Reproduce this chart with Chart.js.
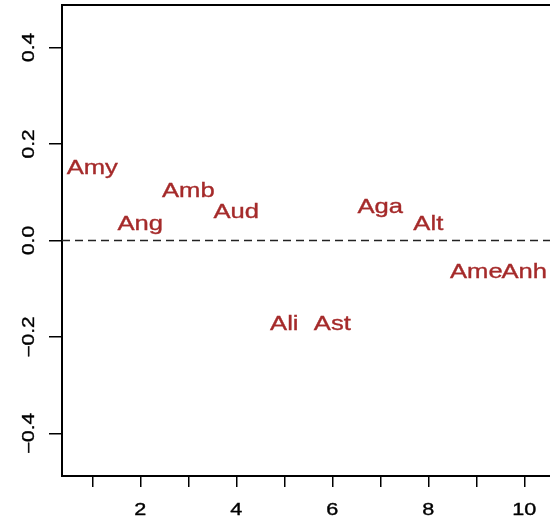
<!DOCTYPE html>
<html>
<head>
<meta charset="utf-8">
<script src="https://cdn.jsdelivr.net/npm/chart.js@4/dist/chart.umd.min.js"></script>
<style>
  html, body { margin: 0; padding: 0; background: #fff; overflow: hidden; }
  canvas { display: block; }
</style>
</head>
<body>
<canvas id="c" width="550" height="521"></canvas>
<script>
// Names and positions of the labelled points
const names   = ["Amy", "Ang", "Amb", "Aud", "Ali", "Ast", "Aga", "Alt", "Ame", "Anh"];
const xValues = [1, 2, 3, 4, 5, 6, 7, 8, 9, 10];
const yValues = [0.153, 0.037, 0.106, 0.061, -0.170, -0.170, 0.072, 0.038, -0.062, -0.062];

// Axis ticks
const xTicks = [1, 2, 3, 4, 5, 6, 7, 8, 9, 10];
const xTickLabels = ["", "2", "", "4", "", "6", "", "8", "", "10"];
const yTicks = [-0.4, -0.2, 0, 0.2, 0.4];
const yTickLabels = ["\u22120.4", "\u22120.2", "0.0", "0.2", "0.4"];
const refLine = 0;

const LABEL_COLOR = "#A52A2A";
const FONT = '"Liberation Sans", Arial, Helvetica, sans-serif';

// Text drawn with a wide letterform (stretched along the text direction)
function wideText(ctx, text, x, y, size, stretch, rot, color) {
  ctx.save();
  ctx.translate(x, y);
  if (rot) ctx.rotate(rot);
  ctx.scale(stretch, 1);
  ctx.font = size + "px " + FONT;
  ctx.fillStyle = color;
  ctx.strokeStyle = color;
  ctx.lineWidth = 0.35;
  ctx.textAlign = "center";
  ctx.textBaseline = "alphabetic";
  ctx.fillText(text, 0, 0);
  ctx.strokeText(text, 0, 0);
  ctx.restore();
}

const decorations = {
  id: "decorations",
  beforeDatasetsDraw(chart) {
    const { ctx, chartArea: a, scales } = chart;
    // top edge of the frame
    ctx.save();
    ctx.strokeStyle = "#000";
    ctx.lineWidth = 2;
    ctx.beginPath();
    ctx.moveTo(a.left - 1, a.top);
    ctx.lineTo(a.right, a.top);
    ctx.stroke();
    // dashed reference line
    const y0 = scales.y.getPixelForValue(refLine);
    ctx.strokeStyle = "#222";
    ctx.lineWidth = 1.4;
    ctx.setLineDash([8, 5]);
    ctx.beginPath();
    ctx.moveTo(a.left, y0);
    ctx.lineTo(a.right, y0);
    ctx.stroke();
    ctx.restore();
  },
  afterDatasetsDraw(chart) {
    const { ctx, scales } = chart;
    // point labels, centred on each point
    const meta = chart.getDatasetMeta(0);
    meta.data.forEach((pt, i) => {
      wideText(ctx, names[i], pt.x, pt.y + 7.4, 21, 1.22, 0, LABEL_COLOR);
    });
    // x tick labels
    xTicks.forEach((v, i) => {
      if (!xTickLabels[i]) return;
      wideText(ctx, xTickLabels[i], scales.x.getPixelForValue(v), 514.5, 16, 1.35, 0, "#000");
    });
    // y tick labels, reading upwards
    yTicks.forEach((v, i) => {
      wideText(ctx, yTickLabels[i], 33.5, scales.y.getPixelForValue(v), 16, 1.3, -Math.PI / 2, "#000");
    });
  }
};

new Chart(document.getElementById("c"), {
  type: "scatter",
  data: {
    datasets: [{
      data: xValues.map((x, i) => ({ x, y: yValues[i] })),
      pointRadius: 0,
      pointHoverRadius: 0
    }]
  },
  options: {
    responsive: false,
    animation: false,
    devicePixelRatio: 1,
    layout: { padding: { top: 5, right: 0, left: 0, bottom: 0 } },
    plugins: { legend: { display: false }, tooltip: { enabled: false } },
    events: [],
    scales: {
      x: {
        type: "linear",
        min: 0.369,
        max: 10.535,
        afterBuildTicks: s => { s.ticks = xTicks.map(v => ({ value: v })); },
        afterFit: s => { s.height = 45; },
        ticks: { display: false },
        grid: { display: true, drawOnChartArea: false, drawTicks: true, tickLength: 11, color: "#000", lineWidth: 1.5 },
        border: { display: true, color: "#000", width: 2 }
      },
      y: {
        type: "linear",
        min: -0.488,
        max: 0.488,
        afterBuildTicks: s => { s.ticks = yTicks.map(v => ({ value: v })); },
        afterFit: s => { s.width = 62; },
        ticks: { display: false },
        grid: { display: true, drawOnChartArea: false, drawTicks: true, tickLength: 13, color: "#000", lineWidth: 1.5 },
        border: { display: true, color: "#000", width: 2 }
      }
    }
  },
  plugins: [decorations]
});
</script>
</body>
</html>
